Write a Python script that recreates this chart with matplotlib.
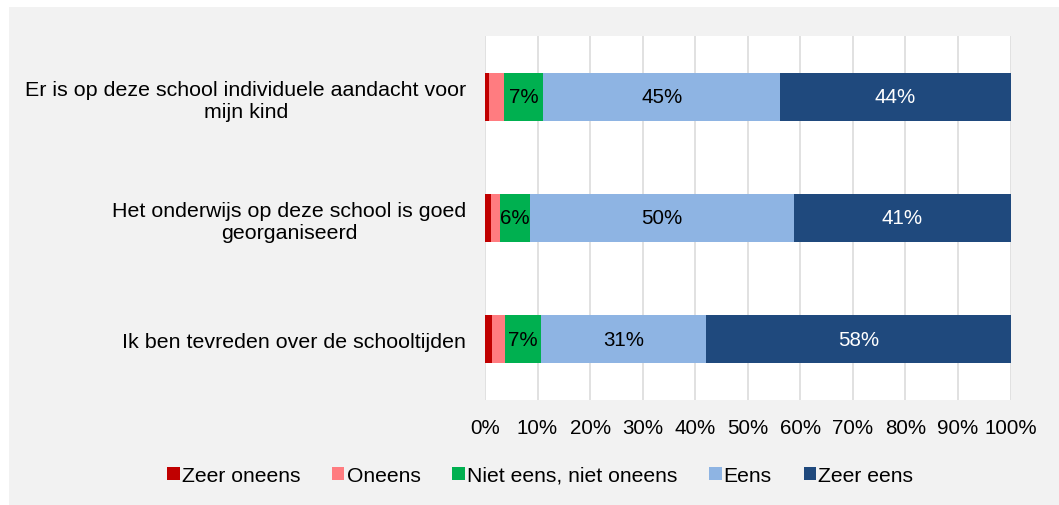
import numpy as np
import matplotlib.pyplot as plt
from matplotlib.patches import Rectangle

plt.rcParams['font.family'] = ['Liberation Sans', 'DejaVu Sans']

vragen = ['Er is op deze school individuele aandacht voor\nmijn kind',
          'Het onderwijs op deze school is goed\ngeorganiseerd',
          'Ik ben tevreden over de schooltijden']
antwoorden = ['Zeer oneens', 'Oneens', 'Niet eens, niet oneens', 'Eens', 'Zeer eens']
zeer_oneens = [0.8, 1.1, 1.3]
oneens = [2.9, 1.7, 2.5]
neutraal = [7.4, 5.7, 6.9]
eens = [45.1, 50.3, 31.4]
zeer_eens = [43.8, 41.2, 57.9]
kleuren = ['#C00000', '#FF7C80', '#00B050', '#8EB4E3', '#1F497D']
tekstkleur = ['black', 'black', 'black', 'black', 'white']

reeksen = [zeer_oneens, oneens, neutraal, eens, zeer_eens]

fig = plt.figure(figsize=(10.59, 5.06), dpi=100)
fig.patch.set_facecolor('white')
fig.patches.append(Rectangle((9 / 1059, 0), 1, 1 - 8 / 506, transform=fig.transFigure,
                             facecolor='#F2F2F2', edgecolor='none', zorder=-10))

ax = fig.add_axes([485 / 1059, 1 - 400.7 / 506, 525.5 / 1059, 363.4 / 506])
ax.set_facecolor('white')

y = np.arange(len(vragen))
links = np.zeros(len(vragen))
for i, serie in enumerate(reeksen):
    vals = np.array(serie) / 100
    ax.barh(y, vals, left=links, height=0.4, color=kleuren[i], label=antwoorden[i], zorder=3)
    for j, v in enumerate(serie):
        if v >= 5:
            ax.text(links[j] + vals[j] / 2, y[j], f'{v:.0f}%', ha='center', va='center',
                    fontsize=14.8, color=tekstkleur[i], zorder=4)
    links += vals

ax.set_xlim(0, 1)
ax.set_ylim(2.5, -0.5)
ax.set_xticks(np.arange(0, 1.01, 0.1))
ax.set_xticklabels([f'{int(round(t * 100))}%' for t in np.arange(0, 1.01, 0.1)])
ax.set_yticks(y)
ax.set_yticklabels(vragen, multialignment='center')
ax.tick_params(axis='both', length=0, colors='black')
ax.tick_params(axis='x', labelsize=14.8, pad=13)
ax.tick_params(axis='y', labelsize=15.4, pad=13.5)
ax.grid(axis='x', color='#D9D9D9', linewidth=1.1, zorder=0)
for s in ax.spines.values():
    s.set_visible(False)

fig.legend(loc='center', bbox_to_anchor=(0.51, 0.059), ncol=5, frameon=False,
           fontsize=15.2, handlelength=0.6, handleheight=0.6, handletextpad=0.1,
           columnspacing=1.5)

fig.savefig('out.png', dpi=100)
